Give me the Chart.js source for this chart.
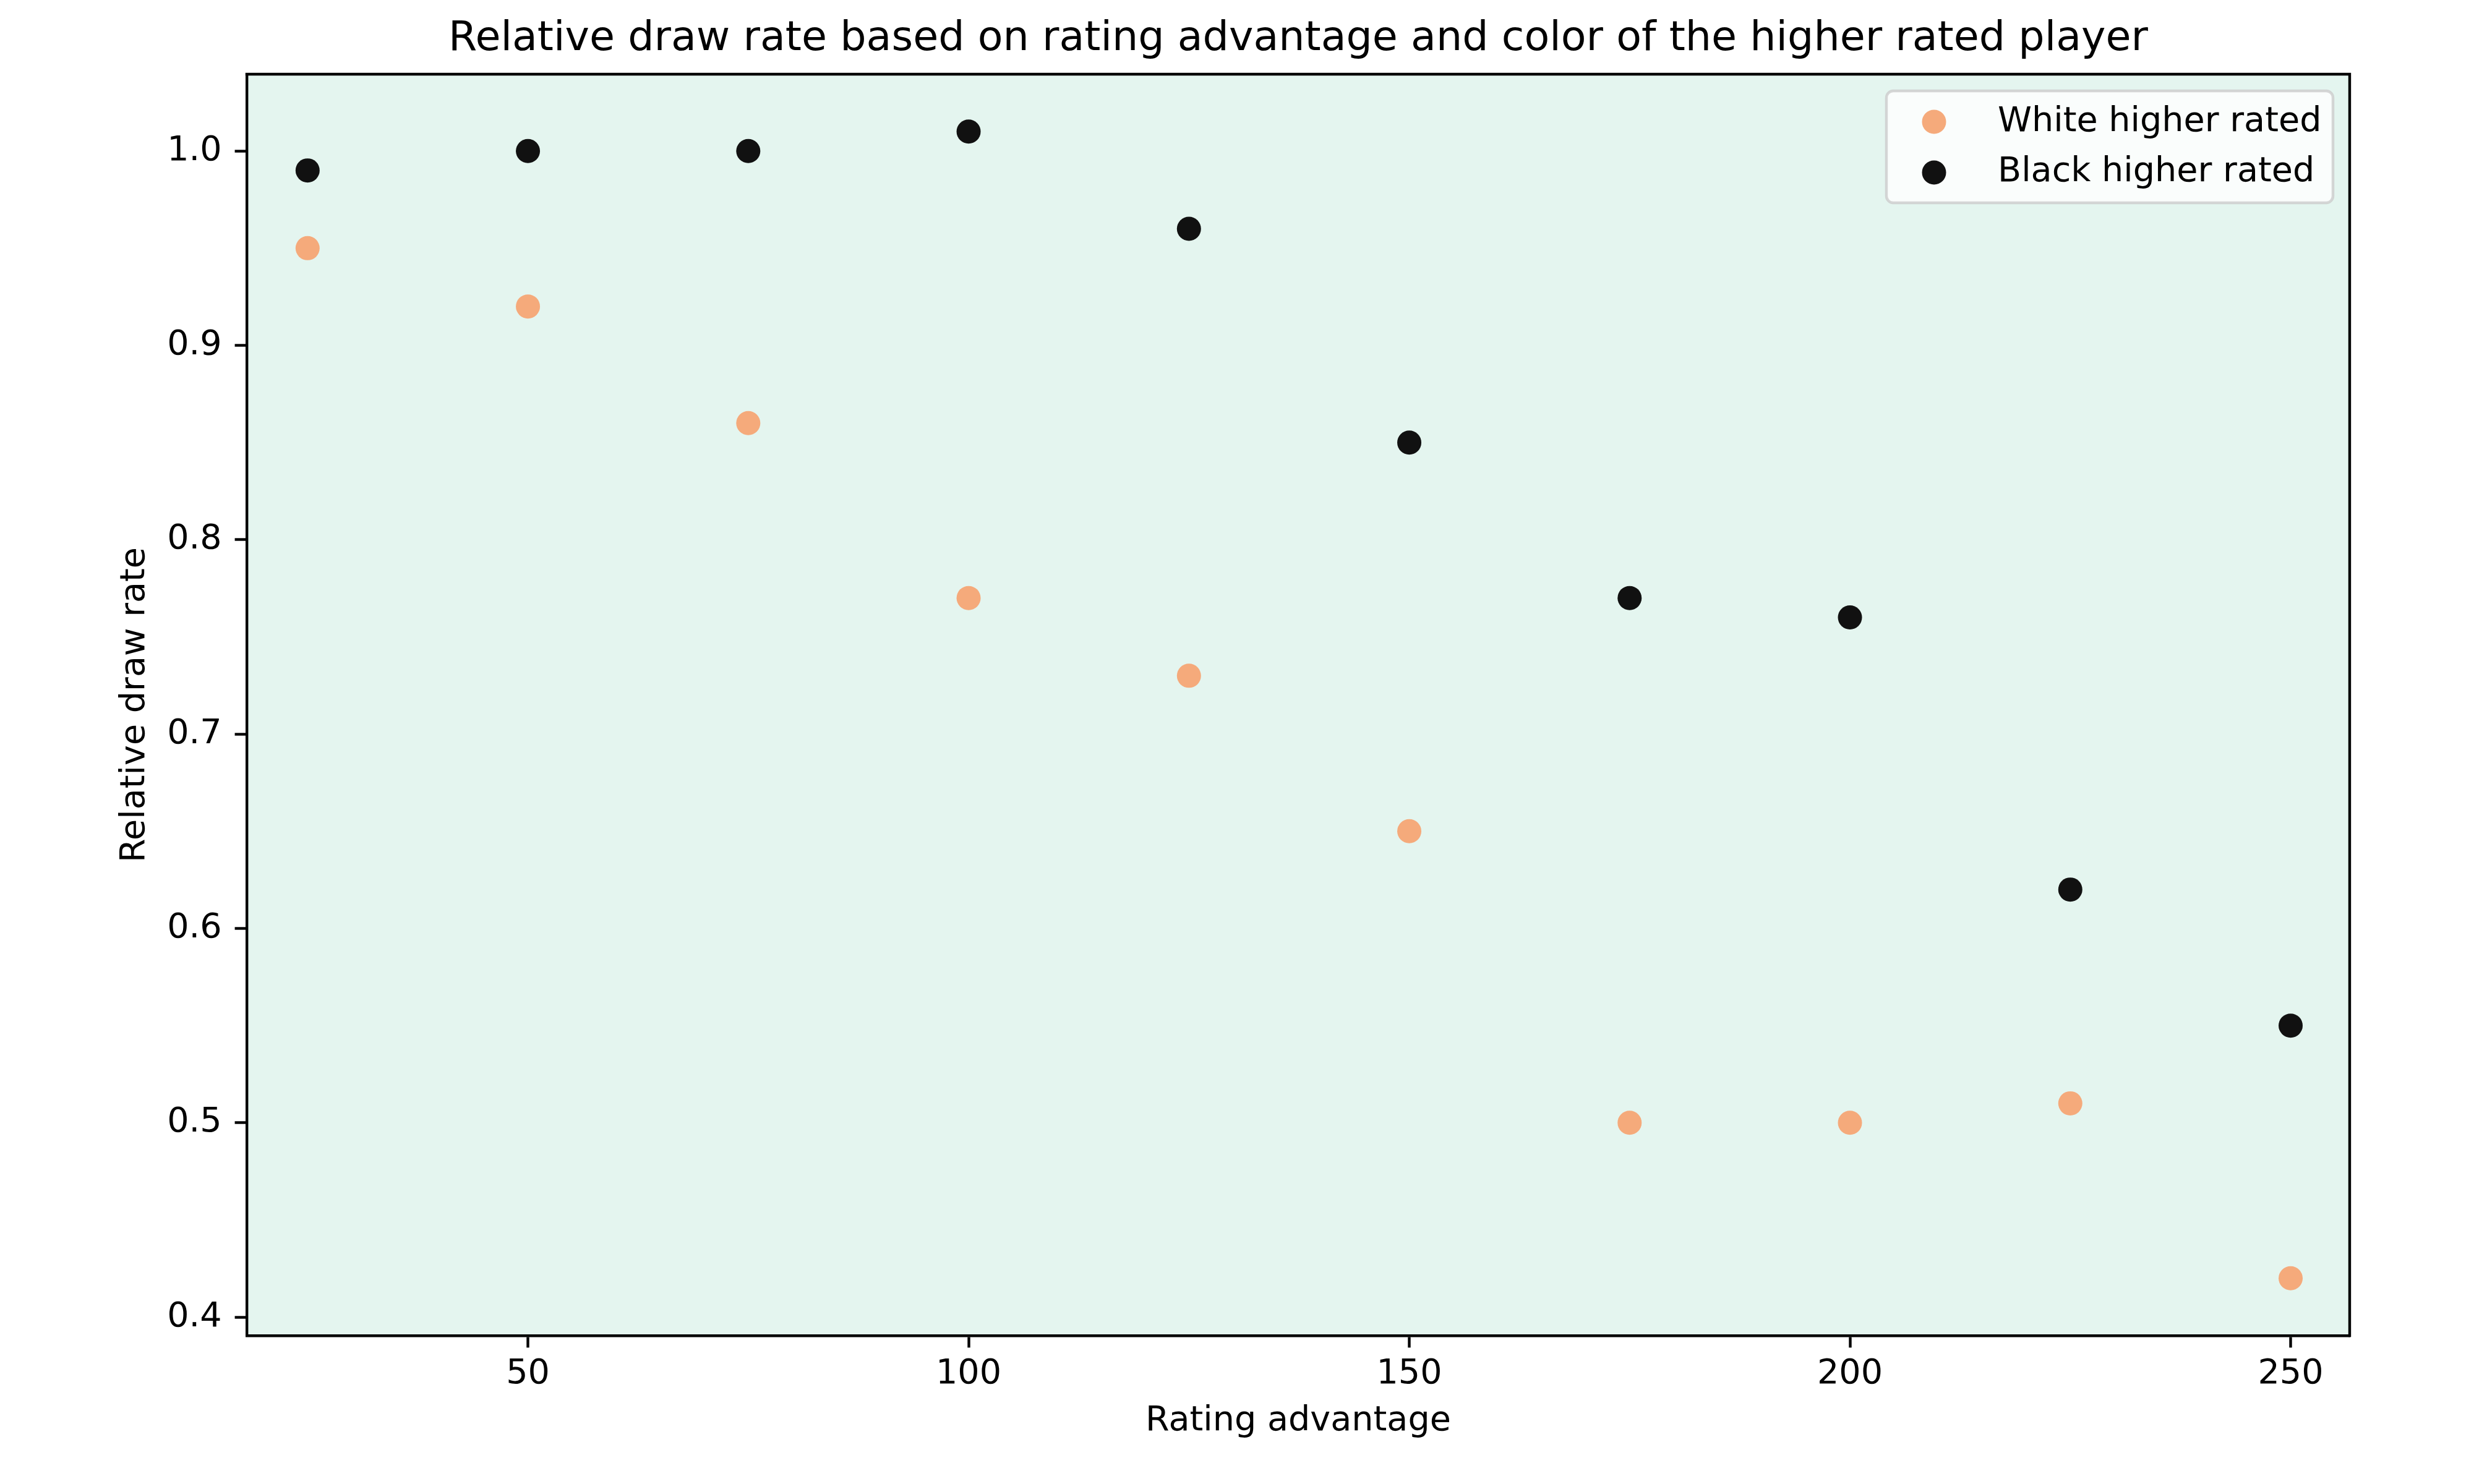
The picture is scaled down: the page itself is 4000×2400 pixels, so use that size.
<!DOCTYPE html>
<html>
<head>
<meta charset="utf-8">
<script src="https://cdn.jsdelivr.net/npm/chart.js@4/dist/chart.umd.min.js"></script>
<style>
  html, body { margin: 0; padding: 0; background: #ffffff; }
  #wrap { width: 4000px; height: 2400px; }
</style>
</head>
<body>
<div id="wrap"><canvas id="c" width="4000" height="2400"></canvas></div>
<script>
// ---- data ----
const ratingAdvantage = [25, 50, 75, 100, 125, 150, 175, 200, 225, 250];
const whiteHigher = [0.95, 0.92, 0.86, 0.77, 0.73, 0.65, 0.50, 0.50, 0.51, 0.42];
const blackHigher = [0.99, 1.00, 1.00, 1.01, 0.96, 0.85, 0.77, 0.76, 0.62, 0.55];
const seriesNames = ['White higher rated', 'Black higher rated'];
const xTickValues = [50, 100, 150, 200, 250];
const yTickValues = [0.4, 0.5, 0.6, 0.7, 0.8, 0.9, 1.0];
const chartTitle = 'Relative draw rate based on rating advantage and color of the higher rated player';
const xLabel = 'Rating advantage';
const yLabel = 'Relative draw rate';

// ---- style ----
const FONT = 'DejaVu Sans';
const TICK_PX = 55.6;
const TITLE_PX = 66.7;
const LINE_W = 4.4;
const TICK_LEN = 19.4;
const ORANGE = '#f5aa7b';
const DARK = '#111111';
const BG = '#e4f5ef';

const toPts = (xs, ys) => xs.map((x, i) => ({ x: x, y: ys[i] }));

const bgPlugin = {
  id: 'plotBg',
  beforeDraw(chart) {
    const { ctx, chartArea: a } = chart;
    ctx.save();
    ctx.fillStyle = BG;
    ctx.fillRect(a.left, a.top, a.right - a.left, a.bottom - a.top);
    ctx.restore();
  },
  afterDraw(chart) {
    const { ctx, chartArea: a } = chart;
    ctx.save();
    ctx.strokeStyle = '#000000';
    ctx.lineWidth = LINE_W;
    ctx.lineCap = 'square';
    ctx.beginPath();
    ctx.moveTo(a.left, a.top);
    ctx.lineTo(a.right, a.top);
    ctx.lineTo(a.right, a.bottom);
    ctx.stroke();
    ctx.restore();
  }
};

const legendPlugin = {
  id: 'innerLegend',
  afterDatasetsDraw(chart) {
    const { ctx } = chart;
    const bx = 3050, by = 147, bw = 722, bh = 181, r = 11;
    ctx.save();
    ctx.beginPath();
    ctx.roundRect(bx, by, bw, bh, r);
    ctx.fillStyle = 'rgba(255,255,255,0.8)';
    ctx.fill();
    ctx.lineWidth = LINE_W;
    ctx.strokeStyle = 'rgba(204,204,204,0.8)';
    ctx.stroke();
    const rows = [{ my: 197, ty: 212 }, { my: 279, ty: 293 }];
    chart.data.datasets.forEach((ds, i) => {
      const row = rows[i];
      ctx.beginPath();
      ctx.arc(3127, row.my, 19.5, 0, Math.PI * 2);
      ctx.fillStyle = ds.backgroundColor;
      ctx.fill();
      ctx.fillStyle = '#000000';
      ctx.font = TICK_PX + 'px "' + FONT + '"';
      ctx.textAlign = 'left';
      ctx.textBaseline = 'alphabetic';
      ctx.fillText(ds.label, 3230, row.ty);
    });
    ctx.restore();
  }
};

new Chart(document.getElementById('c'), {
  type: 'scatter',
  data: {
    datasets: [
      {
        label: seriesNames[0],
        data: toPts(ratingAdvantage, whiteHigher),
        backgroundColor: ORANGE,
        borderColor: ORANGE,
        borderWidth: 0,
        pointRadius: 19.5,
        pointHoverRadius: 19.5
      },
      {
        label: seriesNames[1],
        data: toPts(ratingAdvantage, blackHigher),
        backgroundColor: DARK,
        borderColor: DARK,
        borderWidth: 0,
        pointRadius: 19.5,
        pointHoverRadius: 19.5
      }
    ]
  },
  options: {
    responsive: false,
    animation: false,
    devicePixelRatio: 1,
    layout: { padding: { left: 0, right: 201, top: 0, bottom: 0 } },
    plugins: {
      legend: { display: false },
      tooltip: { enabled: false },
      title: {
        display: true,
        fullSize: false,
        text: chartTitle,
        color: '#000000',
        font: { family: FONT, size: TITLE_PX, weight: 'normal', lineHeight: 1.2 },
        padding: { top: 24, bottom: 16 }
      }
    },
    scales: {
      x: {
        type: 'linear',
        position: 'bottom',
        min: 18.1,
        max: 256.7,
        afterBuildTicks: (s) => { s.ticks = xTickValues.map(v => ({ value: v })); },
        afterFit: (s) => { s.height = 240; },
        ticks: {
          color: '#000000',
          font: { family: FONT, size: TICK_PX, lineHeight: 1.2 },
          padding: 10,
          maxRotation: 0,
          autoSkip: false,
          callback: (v) => String(v)
        },
        grid: {
          display: true,
          drawOnChartArea: false,
          drawTicks: true,
          tickLength: TICK_LEN,
          tickWidth: LINE_W,
          tickColor: '#000000'
        },
        border: { display: true, color: '#000000', width: LINE_W },
        title: {
          display: true,
          text: xLabel,
          color: '#000000',
          font: { family: FONT, size: TICK_PX, lineHeight: 1.2 },
          padding: { top: 0, bottom: 67.6 }
        }
      },
      y: {
        type: 'linear',
        position: 'left',
        min: 0.3905,
        max: 1.0395,
        afterBuildTicks: (s) => { s.ticks = yTickValues.map(v => ({ value: v })); },
        afterFit: (s) => { s.width = 399; },
        ticks: {
          color: '#000000',
          font: { family: FONT, size: TICK_PX, lineHeight: 1.2 },
          padding: 21,
          autoSkip: false,
          callback: (v) => Number(v).toFixed(1)
        },
        grid: {
          display: true,
          drawOnChartArea: false,
          drawTicks: true,
          tickLength: TICK_LEN,
          tickWidth: LINE_W,
          tickColor: '#000000'
        },
        border: { display: true, color: '#000000', width: LINE_W },
        title: {
          display: true,
          text: yLabel,
          color: '#000000',
          font: { family: FONT, size: TICK_PX, lineHeight: 1.2 },
          padding: { top: 185.5, bottom: 0 }
        }
      }
    }
  },
  plugins: [bgPlugin, legendPlugin]
});
</script>
</body>
</html>
